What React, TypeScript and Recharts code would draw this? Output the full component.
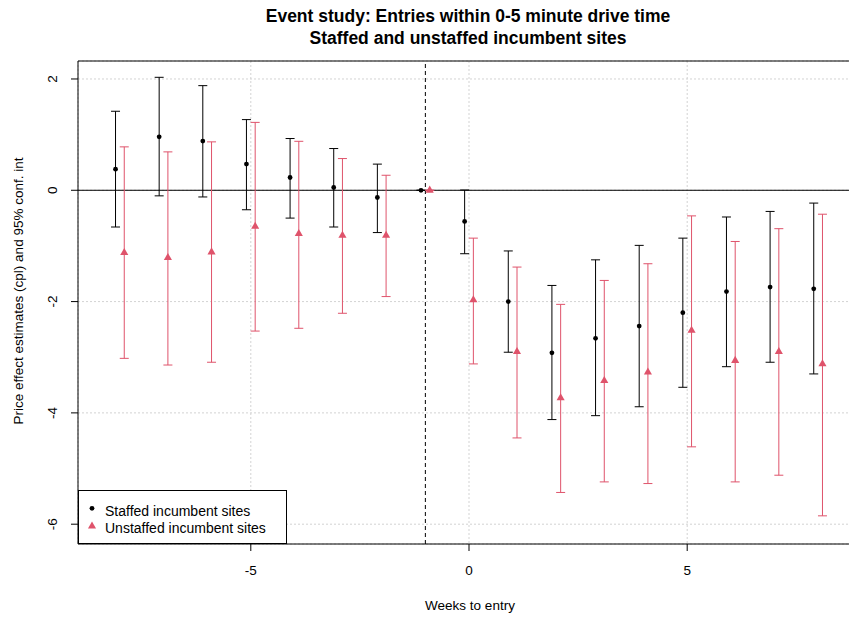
import React from 'react';
import {
  ComposedChart,
  Scatter,
  XAxis,
  YAxis,
  CartesianGrid,
  ErrorBar,
  ReferenceLine,
  ReferenceArea,
} from 'recharts';

const FONT = '"Liberation Sans", Arial, Helvetica, sans-serif';
const PINK = '#DF536B';

// Event-time (weeks to entry)
const weeks = [-8, -7, -6, -5, -4, -3, -2, -1, 0, 1, 2, 3, 4, 5, 6, 7, 8];

// Staffed incumbent sites: estimate and 95% CI
const staffedEst = [0.38, 0.96, 0.885, 0.47, 0.23, 0.05, -0.13, 0, -0.56, -2.0, -2.92, -2.66, -2.44, -2.2, -1.82, -1.74, -1.77];
const staffedLo = [-0.66, -0.1, -0.12, -0.35, -0.5, -0.66, -0.76, 0, -1.14, -2.91, -4.12, -4.05, -3.89, -3.54, -3.17, -3.09, -3.3];
const staffedHi = [1.42, 2.03, 1.88, 1.27, 0.93, 0.75, 0.47, 0, 0.005, -1.09, -1.71, -1.25, -0.99, -0.86, -0.48, -0.38, -0.23];

// Unstaffed incumbent sites: estimate and 95% CI
const unstaffedEst = [-1.12, -1.21, -1.11, -0.65, -0.78, -0.81, -0.81, 0, -1.97, -2.9, -3.73, -3.42, -3.27, -2.52, -3.06, -2.9, -3.12];
const unstaffedLo = [-3.02, -3.14, -3.09, -2.53, -2.48, -2.21, -1.91, 0, -3.12, -4.45, -5.43, -5.24, -5.27, -4.61, -5.24, -5.12, -5.85];
const unstaffedHi = [0.78, 0.69, 0.87, 1.22, 0.88, 0.57, 0.27, 0, -0.86, -1.38, -2.05, -1.62, -1.32, -0.46, -0.92, -0.69, -0.43];

const xTicks = [-5, 0, 5];
const yTicks = [-6, -4, -2, 0, 2];
const xDomain = [-8.96, 8.96];
const yDomain = [-6.356, 2.323];
const eventLine = -1;
const dodge = 0.1;

const staffedData = weeks.map((w, i) => ({
  x: w - dodge,
  y: staffedEst[i],
  err: [staffedEst[i] - staffedLo[i], staffedHi[i] - staffedEst[i]],
}));
const unstaffedData = weeks.map((w, i) => ({
  x: w + dodge,
  y: unstaffedEst[i],
  err: [unstaffedEst[i] - unstaffedLo[i], unstaffedHi[i] - unstaffedEst[i]],
}));

const triPoints = (cx: number, cy: number) =>
  `${cx},${cy - 4.7} ${cx + 4.05},${cy + 2.35} ${cx - 4.05},${cy + 2.35}`;

const DotShape = (props: any) => {
  const { cx, cy } = props;
  if (cx == null || cy == null) return null;
  return <circle cx={cx} cy={cy} r={2.4} fill="#000" />;
};

const TriShape = (props: any) => {
  const { cx, cy } = props;
  if (cx == null || cy == null) return null;
  return <polygon points={triPoints(cx, cy)} fill={PINK} />;
};

const YTick = (props: any) => {
  const { x, y, payload } = props;
  return (
    <text
      x={x}
      y={y}
      transform={`rotate(-90, ${x}, ${y})`}
      textAnchor="middle"
      fontSize={13.5}
      fontFamily={FONT}
      fill="#000"
    >
      {payload.value}
    </text>
  );
};

export default function App() {
  return (
    <div
      style={{
        position: 'absolute',
        left: 0,
        top: 0,
        width: 849,
        height: 617,
        overflow: 'hidden',
        background: '#fff',
        fontFamily: FONT,
      }}
    >
      <ComposedChart
        width={860}
        height={617}
        margin={{ top: 61, right: 0, bottom: 0, left: 0 }}
        style={{ fontFamily: FONT }}
      >
        <CartesianGrid stroke="#d3d3d3" strokeDasharray="2 2" />
        <XAxis
          type="number"
          dataKey="x"
          domain={xDomain}
          ticks={xTicks}
          allowDataOverflow
          interval={0}
          height={73}
          tickSize={7}
          tickMargin={14}
          axisLine={false}
          tickLine={{ stroke: '#000' }}
          tick={{ fill: '#000', fontSize: 13.5, fontFamily: FONT }}
        />
        <YAxis
          type="number"
          dataKey="y"
          domain={yDomain}
          ticks={yTicks}
          allowDataOverflow
          interval={0}
          width={78}
          tickSize={7}
          tickMargin={14.2}
          axisLine={false}
          tickLine={{ stroke: '#000' }}
          tick={<YTick />}
        />
        <ReferenceLine y={0} stroke="#000" strokeWidth={1} />
        <ReferenceLine x={eventLine} stroke="#000" strokeWidth={1} strokeDasharray="4 3" />
        <Scatter
          name="Staffed incumbent sites"
          data={staffedData}
          fill="#000"
          shape={<DotShape />}
          isAnimationActive={false}
        >
          <ErrorBar dataKey="err" direction="y" width={4.5} stroke="#000" strokeWidth={1} isAnimationActive={false} />
        </Scatter>
        <Scatter
          name="Unstaffed incumbent sites"
          data={unstaffedData}
          fill={PINK}
          shape={<TriShape />}
          isAnimationActive={false}
        >
          <ErrorBar dataKey="err" direction="y" width={4.5} stroke={PINK} strokeWidth={1} isAnimationActive={false} />
        </Scatter>
        <ReferenceArea
          x1={xDomain[0]}
          x2={xDomain[1]}
          y1={yDomain[0]}
          y2={yDomain[1]}
          fill="none"
          fillOpacity={0}
          stroke="#000"
          strokeWidth={1}
          ifOverflow="visible"
        />
      </ComposedChart>

      <svg
        width={849}
        height={617}
        style={{ position: 'absolute', left: 0, top: 0, pointerEvents: 'none' }}
      >
        <text x={468} y={22} textAnchor="middle" fontWeight="bold" fontSize={17.5} fontFamily={FONT} fill="#000">
          Event study: Entries within 0-5 minute drive time
        </text>
        <text x={468} y={43.5} textAnchor="middle" fontWeight="bold" fontSize={17.5} fontFamily={FONT} fill="#000">
          Staffed and unstaffed incumbent sites
        </text>
        <text x={470} y={610} textAnchor="middle" fontSize={13.5} fontFamily={FONT} fill="#000">
          Weeks to entry
        </text>
        <text
          x={23}
          y={291}
          transform="rotate(-90, 23, 291)"
          textAnchor="middle"
          fontSize={13.5}
          fontFamily={FONT}
          fill="#000"
        >
          Price effect estimates (cpl) and 95% conf. int
        </text>
      </svg>

      <div
        style={{
          position: 'absolute',
          left: 78,
          top: 490,
          width: 209,
          height: 54,
          boxSizing: 'border-box',
          border: '1px solid #000',
          background: '#fff',
        }}
      >
        <svg width={207} height={52} style={{ display: 'block' }}>
          <circle cx={13} cy={17.3} r={2.4} fill="#000" />
          <polygon points={triPoints(13, 35.2)} fill={PINK} />
          <text x={26} y={24.5} fontSize={14} fontFamily={FONT} fill="#000">
            Staffed incumbent sites
          </text>
          <text x={26} y={41.5} fontSize={14} fontFamily={FONT} fill="#000">
            Unstaffed incumbent sites
          </text>
        </svg>
      </div>
    </div>
  );
}
